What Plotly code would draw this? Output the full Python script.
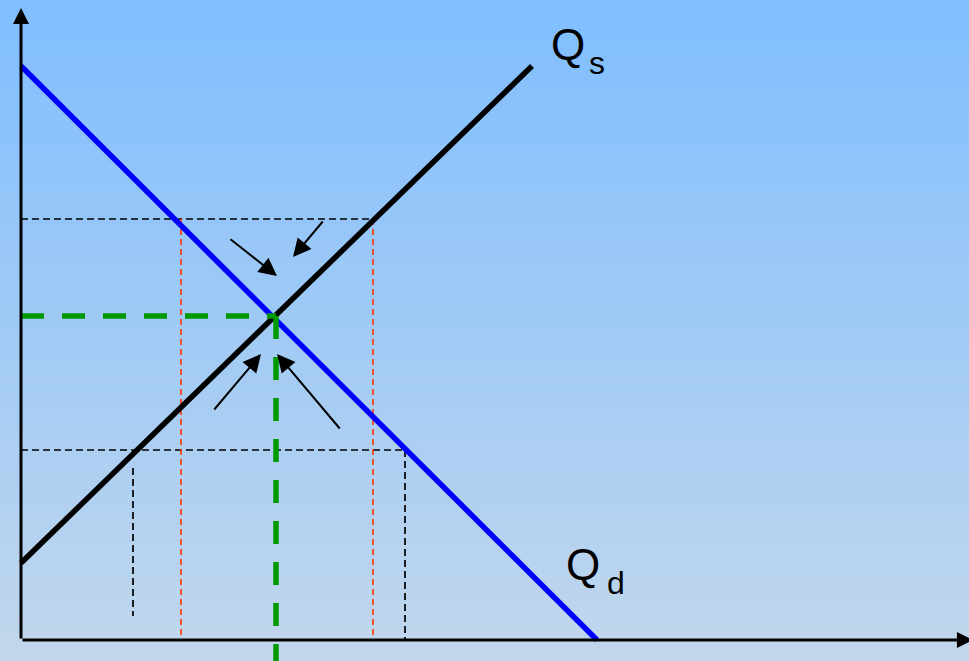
import plotly.graph_objects as go

# ---- data (units: offset from the origin) ----
demand_q = [0, 576]
demand_p = [574, 0]
supply_q = [0, 511]
supply_p = [77, 574]

eq_q, eq_p = 255, 324
high_p, low_p = 421, 190
qd_high, qs_high = 160, 352
qs_low, qd_low = 112, 384
qs_low_seg = [172, 24]
eq_below = -21

# small adjustment arrows: (tail_q, tail_p, head_q, head_p)
arrows = [
    (208, 402, 256, 364),
    (303, 420, 272, 383),
    (192, 229, 240, 286),
    (320, 210, 256, 286),
]

labels_main = [("Q", 528, 596), ("Q", 543, 76)]
labels_sub = [("s", 566, 577), ("d", 584, 57)]

X_RANGE = [-21, 948]
Y_RANGE = [-21, 640]
TOP_COLOR = "rgb(127,190,255)"
BOTTOM_COLOR = "rgb(194,215,236)"

fig = go.Figure()

# gradient background
fig.add_trace(go.Heatmap(
    x=X_RANGE, y=Y_RANGE, z=[[0, 0], [1, 1]],
    colorscale=[[0, BOTTOM_COLOR], [1, TOP_COLOR]],
    zsmooth="best", showscale=False, hoverinfo="skip"))

def seg(x, y, color, width, dash="solid"):
    fig.add_trace(go.Scatter(x=x, y=y, mode="lines", hoverinfo="skip",
                             line=dict(color=color, width=width, dash=dash),
                             showlegend=False))

# guide lines
BD = "7px,4px"
RD = "6px,4px"
seg([0, qs_high], [high_p, high_p], "black", 1.7, BD)
seg([0, qd_low], [low_p, low_p], "black", 1.7, BD)
seg([qd_high, qd_high], [high_p, 0], "#ff3300", 1.6, RD)
seg([qs_high, qs_high], [high_p, 0], "#ff3300", 1.6, RD)
seg([qd_low, qd_low], [low_p, 0], "black", 1.7, BD)
seg([qs_low, qs_low], qs_low_seg, "black", 1.7, BD)

# curves
seg(demand_q, demand_p, "#0000ff", 5.5)
seg(supply_q, supply_p, "black", 5.5)

# equilibrium
GD = "23px,18px"
seg([0, eq_q], [eq_p, eq_p], "#009900", 5.5, GD)
seg([eq_q, eq_q], [eq_p, eq_below], "#009900", 5.5, GD)

ann = []
# axes with arrowheads
ann.append(dict(x=0, y=632, ax=0, ay=0, xref="x", yref="y", axref="x", ayref="y",
                text="", showarrow=True, arrowhead=2, arrowsize=1.07, arrowwidth=3,
                arrowcolor="black", standoff=0, startstandoff=0))
ann.append(dict(x=952, y=0, ax=0, ay=0, xref="x", yref="y", axref="x", ayref="y",
                text="", showarrow=True, arrowhead=2, arrowsize=1.07, arrowwidth=3,
                arrowcolor="black", standoff=0, startstandoff=0))
for tq, tp, hq, hp in arrows:
    ann.append(dict(x=hq, y=hp, ax=tq, ay=tp, xref="x", yref="y", axref="x", ayref="y",
                    text="", showarrow=True, arrowhead=2, arrowsize=1.8, arrowwidth=2,
                    arrowcolor="black", standoff=0, startstandoff=0))
for t, x, y in labels_main:
    ann.append(dict(x=x, y=y, xref="x", yref="y", text=t, showarrow=False,
                    xanchor="left", yanchor="middle",
                    font=dict(family="Liberation Sans, Arial", size=44, color="black")))
for t, x, y in labels_sub:
    ann.append(dict(x=x, y=y, xref="x", yref="y", text=t, showarrow=False,
                    xanchor="left", yanchor="middle",
                    font=dict(family="Liberation Sans, Arial", size=32, color="black")))

fig.update_layout(
    width=969, height=661, margin=dict(l=0, r=0, t=0, b=0),
    paper_bgcolor=BOTTOM_COLOR, plot_bgcolor=BOTTOM_COLOR,
    xaxis=dict(range=X_RANGE, visible=False, fixedrange=True),
    yaxis=dict(range=Y_RANGE, visible=False, fixedrange=True),
    annotations=ann, showlegend=False)

fig.write_html("out.html", config={"displayModeBar": False},
               post_script="document.body.style.margin='0';document.body.style.overflow='hidden';")
